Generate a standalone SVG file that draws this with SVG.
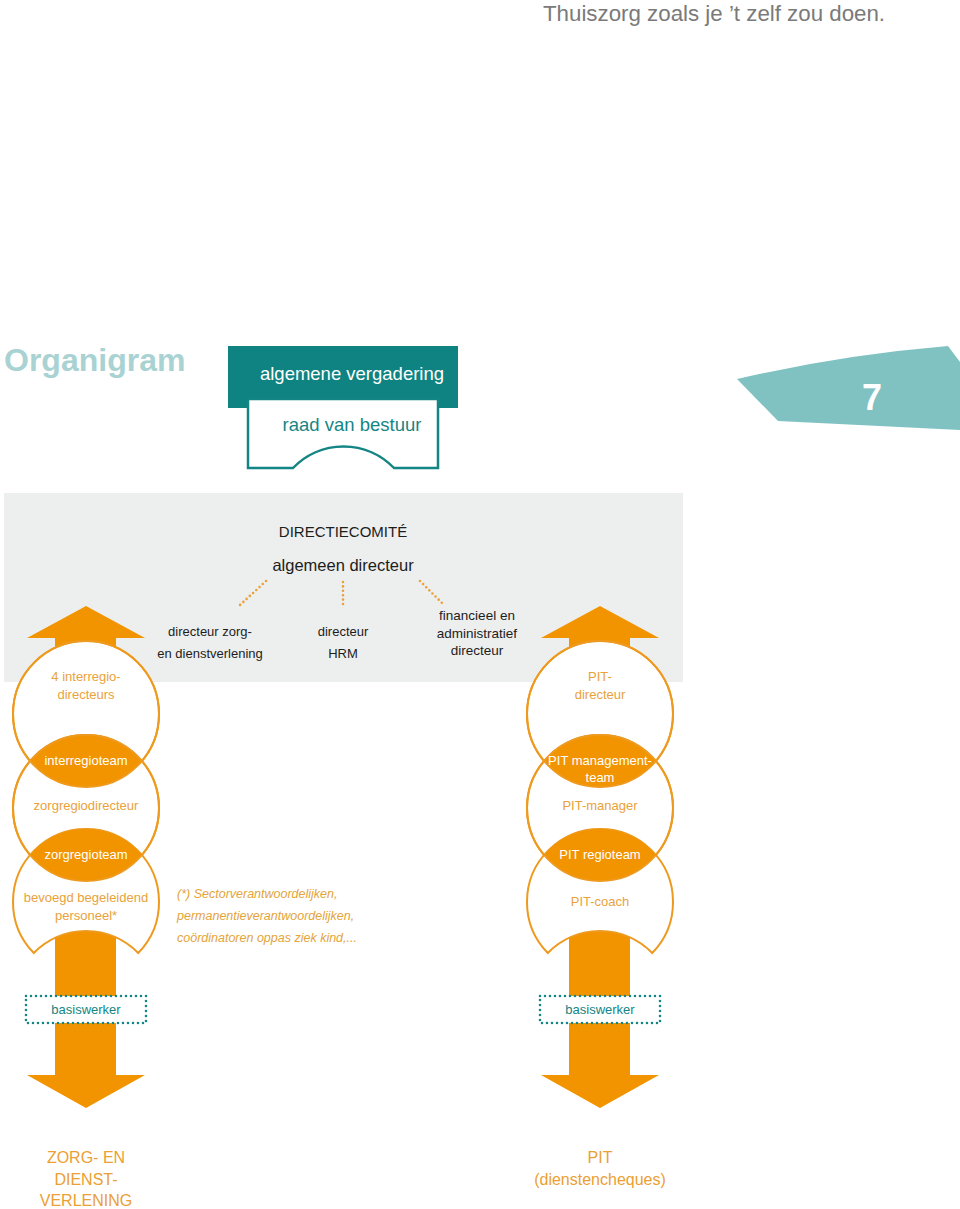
<svg xmlns="http://www.w3.org/2000/svg" width="960" height="1209" viewBox="0 0 960 1209">
<style>
text{font-family:"Liberation Sans",Arial,sans-serif}
.dark{fill:#1d1d1b;text-anchor:middle}
.lab{fill:#E9A23B;text-anchor:middle;font-size:13px}
.wlab{fill:#ffffff;text-anchor:middle;font-size:13px}
.circ{fill:#ffffff;stroke:#EE9A1E;stroke-width:2}
.lens{fill:#F29400}
.orange{fill:#F29400}
.dots{stroke:#E9A23B;stroke-width:2.6;stroke-linecap:round;stroke-dasharray:0 4.4;fill:none}
.bw{fill:#ffffff;stroke:#138584;stroke-width:2.6;stroke-linecap:round;stroke-dasharray:0 5}
.bwt{fill:#138584;text-anchor:middle;font-size:13px}
.big{fill:#EBA033;text-anchor:middle;font-size:16px}
.foot{fill:#E3A43A;font-size:12.5px;font-style:italic}
</style>
<rect width="960" height="1209" fill="#ffffff"/>

<g id="header"><text x="543" y="21" font-size="22.3" fill="#7a7a7a">Thuiszorg zoals je ’t zelf zou doen.</text></g>
<g id="title"><text x="4" y="371" font-size="32" font-weight="bold" fill="#A9D2D3">Organigram</text></g>
<g id="page-tab">
<path d="M737,379 Q840,355 948,346 L960,362 L960,430 L778,421 Z" fill="#80C2C2"/>
<text x="872" y="410" font-size="36" font-weight="bold" fill="#ffffff" text-anchor="middle">7</text>
</g>

<g id="algemene-vergadering">
<rect x="228" y="346" width="230" height="62" fill="#0F8381"/>
<text x="352" y="380" font-size="18.5" fill="#ffffff" text-anchor="middle">algemene vergadering</text>
</g>
<g id="raad-van-bestuur">
<path d="M248,399 L438,399 L438,468 L394,468 A70,70 0 0 0 293,468 L248,468 Z" fill="#ffffff" stroke="#138584" stroke-width="2.5"/>
<text x="352" y="431" font-size="18.5" fill="#168585" text-anchor="middle">raad van bestuur</text>
</g>

<g id="directiecomite">
<rect x="4" y="493" width="679" height="189" fill="#EDEEEE"/>
<text x="343" y="537" font-size="15" class="dark">DIRECTIECOMITÉ</text>
</g>
<g id="algemeen-directeur"><text x="343" y="571" font-size="16.5" class="dark">algemeen directeur</text></g>
<g id="directeur-zorg"><text x="210" y="636" font-size="13" class="dark">directeur zorg-</text><text x="210" y="658" font-size="13" class="dark">en dienstverlening</text></g>
<g id="directeur-hrm"><text x="343" y="636" font-size="13" class="dark">directeur</text><text x="343" y="658" font-size="13" class="dark">HRM</text></g>
<g id="directeur-fin"><text x="477" y="620" font-size="13.5" class="dark">financieel en</text><text x="477" y="638" font-size="13.5" class="dark">administratief</text><text x="477" y="655" font-size="13.5" class="dark">directeur</text></g>

<g id="connectors">
<line class="dots" x1="266" y1="581" x2="240" y2="605"/>
<line class="dots" x1="343" y1="582" x2="343" y2="605"/>
<line class="dots" x1="420" y1="581" x2="444" y2="605"/>
<polygon class="orange" points="86,606 145,638 27,638"/>
<rect class="orange" x="55" y="636" width="61" height="40"/>
<rect class="orange" x="55" y="920" width="61" height="157"/>
<polygon class="orange" points="27,1075 145,1075 86,1108"/>
<polygon class="orange" points="600,606 659,638 541,638"/>
<rect class="orange" x="569" y="636" width="61" height="40"/>
<rect class="orange" x="569" y="920" width="61" height="157"/>
<polygon class="orange" points="541,1075 659,1075 600,1108"/>
</g>

<g id="left-column">
<circle class="circ" cx="86" cy="714" r="73"/>
<circle class="circ" cx="86" cy="808" r="73"/>
<path class="circ" d="M33.8,953 A73,73 0 1 1 138.2,953 A73,73 0 0 0 33.8,953 Z"/>
<path class="lens" d="M30.1,761 A73,73 0 0 1 141.9,761 A73,73 0 0 1 30.1,761 Z"/>
<path class="lens" d="M30.1,855 A73,73 0 0 1 141.9,855 A73,73 0 0 1 30.1,855 Z"/>
<circle cx="86" cy="714" r="73" fill="none" stroke="#EE9A1E" stroke-width="2"/>
<circle cx="86" cy="808" r="73" fill="none" stroke="#EE9A1E" stroke-width="2"/>
</g>
<g id="interregiodirecteurs"><text class="lab" x="86" y="681">4 interregio-</text><text class="lab" x="86" y="699">directeurs</text></g>
<g id="interregioteam"><text class="wlab" x="86" y="765">interregioteam</text></g>
<g id="zorgregiodirecteur"><text class="lab" x="86" y="810">zorgregiodirecteur</text></g>
<g id="zorgregioteam"><text class="wlab" x="86" y="859">zorgregioteam</text></g>
<g id="bevoegd"><text class="lab" x="86" y="902">bevoegd begeleidend</text><text class="lab" x="86" y="920">personeel*</text></g>

<g id="right-column">
<circle class="circ" cx="600" cy="714" r="73"/>
<circle class="circ" cx="600" cy="808" r="73"/>
<path class="circ" d="M547.8,953 A73,73 0 1 1 652.2,953 A73,73 0 0 0 547.8,953 Z"/>
<path class="lens" d="M544.1,761 A73,73 0 0 1 655.9,761 A73,73 0 0 1 544.1,761 Z"/>
<path class="lens" d="M544.1,855 A73,73 0 0 1 655.9,855 A73,73 0 0 1 544.1,855 Z"/>
<circle cx="600" cy="714" r="73" fill="none" stroke="#EE9A1E" stroke-width="2"/>
<circle cx="600" cy="808" r="73" fill="none" stroke="#EE9A1E" stroke-width="2"/>
</g>
<g id="pit-directeur"><text class="lab" x="600" y="681">PIT-</text><text class="lab" x="600" y="699">directeur</text></g>
<g id="pit-managementteam"><text class="wlab" x="600" y="765">PIT management-</text><text class="wlab" x="600" y="782">team</text></g>
<g id="pit-manager"><text class="lab" x="600" y="810">PIT-manager</text></g>
<g id="pit-regioteam"><text class="wlab" x="600" y="859">PIT regioteam</text></g>
<g id="pit-coach"><text class="lab" x="600" y="906">PIT-coach</text></g>

<g id="footnote">
<text class="foot" x="177" y="898">(*) Sectorverantwoordelijken,</text>
<text class="foot" x="177" y="920">permanentieverantwoordelijken,</text>
<text class="foot" x="177" y="942">coördinatoren oppas ziek kind,...</text>
</g>

<g id="basiswerker-left"><rect class="bw" x="26" y="996" width="120" height="27"/><text class="bwt" x="86" y="1014">basiswerker</text></g>
<g id="basiswerker-right"><rect class="bw" x="540" y="996" width="120" height="27"/><text class="bwt" x="600" y="1014">basiswerker</text></g>

<g id="zorg-en-dienstverlening"><text class="big" x="86" y="1163">ZORG- EN</text><text class="big" x="86" y="1185">DIENST-</text><text class="big" x="86" y="1206">VERLENING</text></g>
<g id="pit-dienstencheques"><text class="big" x="600" y="1163">PIT</text><text class="big" x="600" y="1185">(dienstencheques)</text></g>
</svg>
